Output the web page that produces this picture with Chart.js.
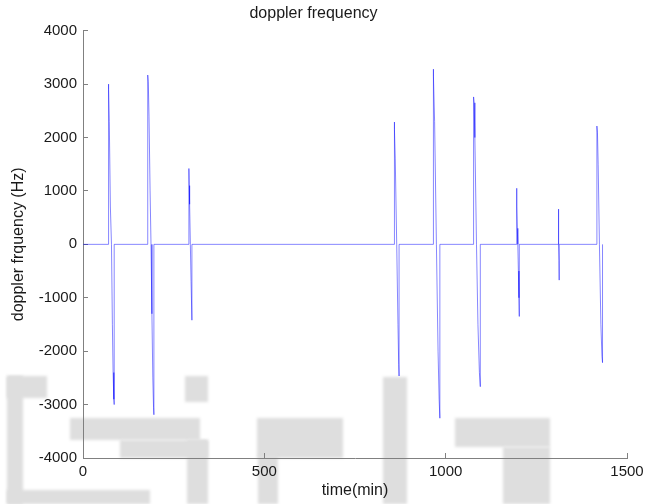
<!DOCTYPE html>
<html>
<head>
<meta charset="utf-8">
<title>doppler frequency</title>
<script src="https://cdn.jsdelivr.net/npm/chart.js@4.4.1/dist/chart.umd.min.js"></script>
<style>
    html, body { margin: 0; padding: 0; background: #ffffff; }
    canvas { display: block; }
</style>
</head>
<body>
<canvas id="myChart" width="659" height="504"></canvas>
<script>
//Chart data
///Time of each sample (min)
var timeMin = [
    0,
    70, 70, 71, 72.5, 75.5, 78.5, 81, 83, 85, 86, 86,
    178.5, 178.5, 180, 182, 185, 187.5, 190, 192.5, 194.5, 195.5, 195.5,
    292, 292, 293, 294, 296, 298, 300, 300.5, 300.5,
    858, 858, 859.5, 861, 865, 868.5, 870.5, 871.5, 871.5,
    965.5, 965.5, 967, 969.5, 974.5, 979, 982, 984, 984,
    1077, 1077, 1078.5, 1080.5, 1085, 1089, 1093, 1095.5, 1095.5,
    1195.5, 1195.5, 1196.5, 1197.5, 1199, 1200.5, 1202, 1203, 1203,
    1310.5, 1310.5, 1311.5, 1312, 1312.5, 1313, 1313,
    1417, 1417, 1418.5, 1420.5, 1424, 1428, 1431, 1432.5, 1432.5
];

///Doppler frequency of each sample (Hz)
var dopplerHz = [
    0,
    0, 3000, 2900, 2300, 700, 0, -1500, -2400, -2900, -3000, 0,
    0, 3170, 3050, 2400, 1000, 0, -1300, -2500, -3050, -3190, 0,
    0, 1420, 1100, 750, 0, -700, -1400, -1420, 0,
    0, 2290, 2150, 1600, 0, -1500, -2250, -2465, 0,
    0, 3280, 3150, 2300, 0, -2000, -2900, -3255, 0,
    0, 2760, 2650, 2000, 0, -1500, -2400, -2665, 0,
    0, 1050, 700, 300, 0, -500, -1000, -1350, 0,
    0, 660, 250, 0, -300, -670, 0,
    0, 2215, 2100, 1500, 0, -1500, -2100, -2215, 0
];

///Axis ticks
var xTicks = [0, 500, 1000, 1500];
var yTicks = [-4000, -3000, -2000, -1000, 0, 1000, 2000, 3000, 4000];

var fontFamily = "'Liberation Sans', Arial, Helvetica, sans-serif";
var axisGrey = "#808080";
var textColour = "#1a1a1a";

//Faint grey shapes that sit behind the plot in the original scan
var backdrop = {
    id: "backdrop",
    beforeDraw: function (chart) {
        var ctx = chart.ctx;
        ctx.save();
        ctx.fillStyle = "#ffffff";
        ctx.fillRect(0, 0, chart.width, chart.height);
        ctx.filter = "blur(1.5px)";
        ctx.fillStyle = "#dedede";
        var shapes = [
            [7, 376, 16, 128],
            [7, 376, 40, 22],
            [185, 376, 23, 26],
            [70, 418, 130, 22],
            [120, 440, 88, 18],
            [187, 440, 21, 64],
            [7, 490, 143, 14],
            [257, 418, 86, 40],
            [258, 456, 20, 48],
            [383, 377, 24, 127],
            [455, 418, 95, 29],
            [503, 447, 47, 57]
        ];
        shapes.forEach(function (s) {
            ctx.fillRect(s[0], s[1], s[2], s[3]);
        });
        ctx.restore();
    }
};

function buildPoints() {
    var points = [];
    for (var i = 0; i < timeMin.length; i++) {
        points.push({ x: timeMin[i], y: dopplerHz[i] });
    }
    return points;
}

//Plain numbers on the ticks, no thousands separator
function plainLabel(value) {
    return String(value);
}

function drawGraph() {
    var chart = new Chart("myChart", {
        type: "line",
        data: {
            datasets: [{
                label: "doppler frequency",
                data: buildPoints(),
                borderColor: "rgba(0, 0, 255, 0.6)",
                borderWidth: 0.8,
                pointRadius: 0,
                tension: 0,
                fill: false
            }]
        },
        options: {
            responsive: false,
            animation: false,
            devicePixelRatio: 1,
            layout: {
                padding: { left: 0, right: 32, top: 0, bottom: 0 }
            },
            plugins: {
                legend: { display: false },
                tooltip: { enabled: false },
                title: {
                    display: true,
                    text: "doppler frequency",
                    color: textColour,
                    font: { family: fontFamily, size: 16, weight: "normal" },
                    padding: { top: 4.4, bottom: 7.1 }
                }
            },
            scales: {
                x: {
                    type: "linear",
                    min: xTicks[0],
                    max: xTicks[xTicks.length - 1],
                    afterBuildTicks: function (scale) {
                        scale.ticks = xTicks.map(function (v) { return { value: v }; });
                    },
                    afterFit: function (scale) {
                        scale.height = 46;
                    },
                    border: { display: true, color: axisGrey, width: 1 },
                    grid: {
                        drawOnChartArea: false,
                        drawTicks: true,
                        tickLength: -5,
                        color: axisGrey
                    },
                    ticks: {
                        color: textColour,
                        padding: 10,
                        maxRotation: 0,
                        callback: plainLabel,
                        font: { family: fontFamily, size: 15 }
                    },
                    title: {
                        display: true,
                        text: "time(min)",
                        color: textColour,
                        font: { family: fontFamily, size: 16 },
                        padding: { top: 0, bottom: 3.4 }
                    }
                },
                y: {
                    type: "linear",
                    min: yTicks[0],
                    max: yTicks[yTicks.length - 1],
                    afterBuildTicks: function (scale) {
                        scale.ticks = yTicks.map(function (v) { return { value: v }; });
                    },
                    afterFit: function (scale) {
                        scale.width = 83;
                    },
                    border: { display: true, color: axisGrey, width: 1 },
                    grid: {
                        drawOnChartArea: false,
                        drawTicks: true,
                        tickLength: -5,
                        color: axisGrey
                    },
                    ticks: {
                        color: textColour,
                        padding: 11,
                        callback: plainLabel,
                        font: { family: fontFamily, size: 15 }
                    },
                    title: {
                        display: true,
                        text: "doppler frquency (Hz)",
                        color: textColour,
                        font: { family: fontFamily, size: 16 },
                        padding: { top: 9.4, bottom: 0 }
                    }
                }
            }
        },
        plugins: [backdrop]
    });

    return chart;
}

window.onload = function () {
    drawGraph();
};
</script>
</body>
</html>
